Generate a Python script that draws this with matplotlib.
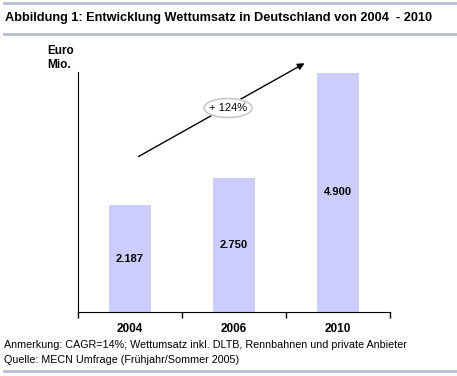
import matplotlib.pyplot as plt
from matplotlib.patches import Ellipse

plt.rcParams['font.family'] = ['Liberation Sans', 'DejaVu Sans']

years = ['2004', '2006', '2010']
umsatz = [2187, 2750, 4900]
labels = ['2.187', '2.750', '4.900']

title = 'Abbildung 1: Entwicklung Wettumsatz in Deutschland von 2004  - 2010'
note1 = 'Anmerkung: CAGR=14%; Wettumsatz inkl. DLTB, Rennbahnen und private Anbieter'
note2 = 'Quelle: MECN Umfrage (Frühjahr/Sommer 2005)'

W, H = 457, 376
fig = plt.figure(figsize=(W / 100, H / 100), dpi=100)
renderer = fig.canvas.get_renderer()

def fx(px):
    return px / W

def fy(py):
    return 1 - py / H

def fit(txt, width_px):
    # shrink or grow the font so the text spans about width_px
    w = txt.get_window_extent(renderer).width
    txt.set_fontsize(txt.get_fontsize() * width_px / w)

# frame lines
line_col = '#b8bfd3'
for y in (3, 34, 371):
    fig.add_artist(plt.Line2D([fx(4), 1], [fy(y), fy(y)], color=line_col, lw=2))

t = fig.text(fx(5), fy(18), title, fontsize=10, fontweight='bold', va='center')
fit(t, 427)
fig.text(fx(47), fy(51), 'Euro', fontsize=8.5, fontweight='bold', va='center')
fig.text(fx(47), fy(65), 'Mio.', fontsize=8.5, fontweight='bold', va='center')
n1 = fig.text(fx(4), fy(345), note1, fontsize=7.5, va='center')
fit(n1, 400)
n2 = fig.text(fx(4), fy(360), note2, fontsize=n1.get_fontsize(), va='center')

ax = fig.add_axes([fx(78), fy(312), fx(390) - fx(78), fy(72) - fy(312)])
x = range(len(years))
bars = ax.bar(x, umsatz, width=0.4, color='#ccccff')
for b, lab in zip(bars, labels):
    ax.text(b.get_x() + b.get_width() / 2, b.get_height() / 2, lab,
            ha='center', va='center', fontsize=8, fontweight='bold')

ax.set_xlim(-0.5, 2.5)
ax.set_ylim(0, 4920)
ax.set_yticks([])
ax.set_xticks([-0.5, 0.5, 1.5, 2.5])
ax.set_xticklabels([])
ax.set_xticks(list(x), minor=True)
ax.set_xticklabels(years, minor=True, fontsize=8.5, fontweight='bold')
ax.tick_params(axis='x', which='major', direction='out', length=4, width=1)
ax.tick_params(axis='x', which='minor', length=0, pad=8)
for s in ('top', 'right'):
    ax.spines[s].set_visible(False)

# growth arrow
ax.annotate('', xy=(0.734, 1.042), xytext=(0.186, 0.642),
            xycoords='axes fraction', textcoords='axes fraction',
            arrowprops=dict(arrowstyle='-|>', color='black', lw=1,
                            mutation_scale=10), annotation_clip=False)
ax.add_patch(Ellipse((0.481, 0.85), 48 / 312, 19 / 240, transform=ax.transAxes,
                     facecolor='white', edgecolor='#c8c8c8', lw=1.2,
                     clip_on=False, zorder=5))
ax.text(0.481, 0.85, '+ 124%', transform=ax.transAxes, ha='center',
        va='center', fontsize=8, zorder=6)

fig.savefig('out.png', dpi=100)
